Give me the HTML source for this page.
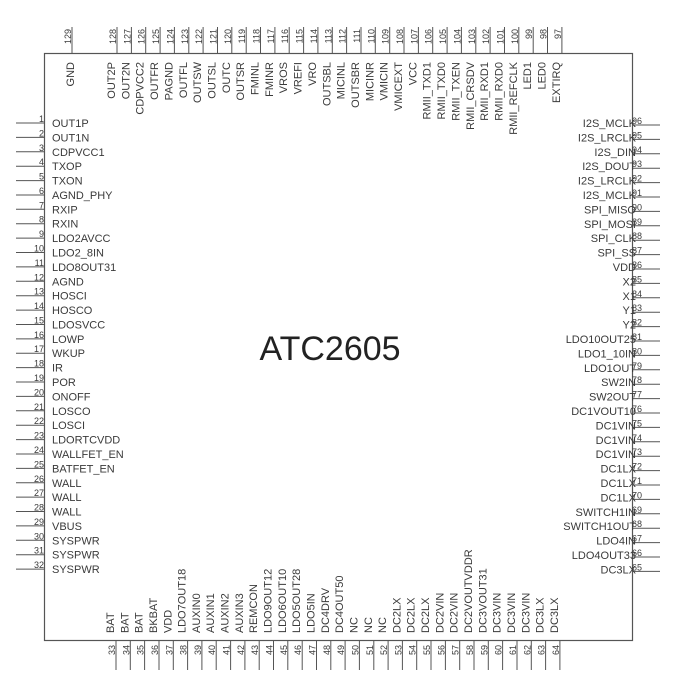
<!DOCTYPE html>
<html><head><meta charset="utf-8"><style>
html,body{margin:0;padding:0;background:#fff;}
svg{display:block;}
text{font-family:"Liberation Sans",Arial,sans-serif;fill:#3a3a3a;}
.l{font-size:11px}
.n{font-size:9px}
</style></head><body>
<svg width="700" height="700" viewBox="0 0 700 700" xmlns="http://www.w3.org/2000/svg">
<rect x="44.5" y="53.5" width="588" height="587" fill="none" stroke="#555" stroke-width="1.2"/>
<text x="330" y="360" text-anchor="middle" style="font-size:34px;fill:#222">ATC2605</text>

<!-- left pins -->
<g stroke="#555" stroke-width="1">
<path d="M16 123H44M16 137.4H44M16 151.8H44M16 166.2H44M16 180.6H44M16 195H44M16 209.3H44M16 223.7H44M16 238.1H44M16 252.5H44M16 266.9H44M16 281.3H44M16 295.7H44M16 310.1H44M16 324.5H44M16 338.9H44M16 353.2H44M16 367.6H44M16 382H44M16 396.4H44M16 410.8H44M16 425.2H44M16 439.6H44M16 454H44M16 468.4H44M16 482.8H44M16 497.1H44M16 511.5H44M16 525.9H44M16 540.3H44M16 554.7H44M16 569.1H44"/>
</g>
<g class="n" text-anchor="end">
<text x="44" y="122">1</text><text x="44" y="136.4">2</text><text x="44" y="150.8">3</text><text x="44" y="165.2">4</text><text x="44" y="179.6">5</text><text x="44" y="194">6</text><text x="44" y="208.3">7</text><text x="44" y="222.7">8</text><text x="44" y="237.1">9</text><text x="44" y="251.5">10</text><text x="44" y="265.9">11</text><text x="44" y="280.3">12</text><text x="44" y="294.7">13</text><text x="44" y="309.1">14</text><text x="44" y="323.5">15</text><text x="44" y="337.9">16</text><text x="44" y="352.2">17</text><text x="44" y="366.6">18</text><text x="44" y="381">19</text><text x="44" y="395.4">20</text><text x="44" y="409.8">21</text><text x="44" y="424.2">22</text><text x="44" y="438.6">23</text><text x="44" y="453">24</text><text x="44" y="467.4">25</text><text x="44" y="481.8">26</text><text x="44" y="496.1">27</text><text x="44" y="510.5">28</text><text x="44" y="524.9">29</text><text x="44" y="539.3">30</text><text x="44" y="553.7">31</text><text x="44" y="568.1">32</text>
</g>
<g class="l">
<text x="52" y="127">OUT1P</text><text x="52" y="141.4">OUT1N</text><text x="52" y="155.8">CDPVCC1</text><text x="52" y="170.2">TXOP</text><text x="52" y="184.6">TXON</text><text x="52" y="199">AGND_PHY</text><text x="52" y="213.3">RXIP</text><text x="52" y="227.7">RXIN</text><text x="52" y="242.1">LDO2AVCC</text><text x="52" y="256.5">LDO2_8IN</text><text x="52" y="270.9">LDO8OUT31</text><text x="52" y="285.3">AGND</text><text x="52" y="299.7">HOSCI</text><text x="52" y="314.1">HOSCO</text><text x="52" y="328.5">LDOSVCC</text><text x="52" y="342.9">LOWP</text><text x="52" y="357.2">WKUP</text><text x="52" y="371.6">IR</text><text x="52" y="386">POR</text><text x="52" y="400.4">ONOFF</text><text x="52" y="414.8">LOSCO</text><text x="52" y="429.2">LOSCI</text><text x="52" y="443.6">LDORTCVDD</text><text x="52" y="458">WALLFET_EN</text><text x="52" y="472.4">BATFET_EN</text><text x="52" y="486.8">WALL</text><text x="52" y="501.1">WALL</text><text x="52" y="515.5">WALL</text><text x="52" y="529.9">VBUS</text><text x="52" y="544.3">SYSPWR</text><text x="52" y="558.7">SYSPWR</text><text x="52" y="573.1">SYSPWR</text>
</g>

<!-- right pins -->
<g stroke="#555" stroke-width="1">
<path d="M633 125H660M633 139.4H660M633 153.8H660M633 168.2H660M633 182.6H660M633 197H660M633 211.4H660M633 225.8H660M633 240.2H660M633 254.6H660M633 269H660M633 283.4H660M633 297.8H660M633 312.2H660M633 326.6H660M633 341H660M633 355.4H660M633 369.8H660M633 384.2H660M633 398.6H660M633 413H660M633 427.4H660M633 441.8H660M633 456.2H660M633 470.6H660M633 485H660M633 499.4H660M633 513.8H660M633 528.2H660M633 542.6H660M633 557H660M633 571.4H660"/>
</g>
<g class="n">
<text x="632" y="124">96</text><text x="632" y="138.4">95</text><text x="632" y="152.8">94</text><text x="632" y="167.2">93</text><text x="632" y="181.6">92</text><text x="632" y="196">91</text><text x="632" y="210.4">90</text><text x="632" y="224.8">89</text><text x="632" y="239.2">88</text><text x="632" y="253.6">87</text><text x="632" y="268">86</text><text x="632" y="282.4">85</text><text x="632" y="296.8">84</text><text x="632" y="311.2">83</text><text x="632" y="325.6">82</text><text x="632" y="340">81</text><text x="632" y="354.4">80</text><text x="632" y="368.8">79</text><text x="632" y="383.2">78</text><text x="632" y="397.6">77</text><text x="632" y="412">76</text><text x="632" y="426.4">75</text><text x="632" y="440.8">74</text><text x="632" y="455.2">73</text><text x="632" y="469.6">72</text><text x="632" y="484">71</text><text x="632" y="498.4">70</text><text x="632" y="512.8">69</text><text x="632" y="527.2">68</text><text x="632" y="541.6">67</text><text x="632" y="556">66</text><text x="632" y="570.4">65</text>
</g>
<g class="l" text-anchor="end">
<text x="636" y="127">I2S_MCLK</text><text x="636" y="141.4">I2S_LRCLK</text><text x="636" y="155.8">I2S_DIN</text><text x="636" y="170.2">I2S_DOUT</text><text x="636" y="184.6">I2S_LRCLK</text><text x="636" y="199">I2S_MCLK</text><text x="636" y="213.4">SPI_MISO</text><text x="636" y="227.8">SPI_MOSI</text><text x="636" y="242.2">SPI_CLK</text><text x="636" y="256.6">SPI_SS</text><text x="636" y="271">VDD</text><text x="636" y="285.4">X2</text><text x="636" y="299.8">X1</text><text x="636" y="314.2">Y1</text><text x="636" y="328.6">Y2</text><text x="636" y="343">LDO10OUT25</text><text x="636" y="357.4">LDO1_10IN</text><text x="636" y="371.8">LDO1OUT</text><text x="636" y="386.2">SW2IN</text><text x="636" y="400.6">SW2OUT</text><text x="636" y="415">DC1VOUT10</text><text x="636" y="429.4">DC1VIN</text><text x="636" y="443.8">DC1VIN</text><text x="636" y="458.2">DC1VIN</text><text x="636" y="472.6">DC1LX</text><text x="636" y="487">DC1LX</text><text x="636" y="501.4">DC1LX</text><text x="636" y="515.8">SWITCH1IN</text><text x="636" y="530.2">SWITCH1OUT</text><text x="636" y="544.6">LDO4IN</text><text x="636" y="559">LDO4OUT33</text><text x="636" y="573.4">DC3LX</text>
</g>

<!-- top pins -->
<g stroke="#555" stroke-width="1">
<path d="M72 27V53M117 27V53M131.4 27V53M145.7 27V53M160.1 27V53M174.4 27V53M188.8 27V53M203.1 27V53M217.5 27V53M231.8 27V53M246.2 27V53M260.5 27V53M274.9 27V53M289.2 27V53M303.6 27V53M317.9 27V53M332.3 27V53M346.6 27V53M361 27V53M375.3 27V53M389.7 27V53M404 27V53M418.4 27V53M432.7 27V53M447.1 27V53M461.4 27V53M475.8 27V53M490.1 27V53M504.5 27V53M518.8 27V53M533.2 27V53M547.5 27V53M561.9 27V53"/>
</g>
<g class="n" text-anchor="end">
<text transform="translate(71,29) rotate(-90)">129</text>
<text transform="translate(116,29) rotate(-90)">128</text><text transform="translate(130.4,29) rotate(-90)">127</text><text transform="translate(144.7,29) rotate(-90)">126</text><text transform="translate(159.1,29) rotate(-90)">125</text><text transform="translate(173.4,29) rotate(-90)">124</text><text transform="translate(187.8,29) rotate(-90)">123</text><text transform="translate(202.1,29) rotate(-90)">122</text><text transform="translate(216.5,29) rotate(-90)">121</text><text transform="translate(230.8,29) rotate(-90)">120</text><text transform="translate(245.2,29) rotate(-90)">119</text><text transform="translate(259.5,29) rotate(-90)">118</text><text transform="translate(273.9,29) rotate(-90)">117</text><text transform="translate(288.2,29) rotate(-90)">116</text><text transform="translate(302.6,29) rotate(-90)">115</text><text transform="translate(316.9,29) rotate(-90)">114</text><text transform="translate(331.3,29) rotate(-90)">113</text><text transform="translate(345.6,29) rotate(-90)">112</text><text transform="translate(360,29) rotate(-90)">111</text><text transform="translate(374.3,29) rotate(-90)">110</text><text transform="translate(388.7,29) rotate(-90)">109</text><text transform="translate(403,29) rotate(-90)">108</text><text transform="translate(417.4,29) rotate(-90)">107</text><text transform="translate(431.7,29) rotate(-90)">106</text><text transform="translate(446.1,29) rotate(-90)">105</text><text transform="translate(460.4,29) rotate(-90)">104</text><text transform="translate(474.8,29) rotate(-90)">103</text><text transform="translate(489.1,29) rotate(-90)">102</text><text transform="translate(503.5,29) rotate(-90)">101</text><text transform="translate(517.8,29) rotate(-90)">100</text><text transform="translate(532.2,29) rotate(-90)">99</text><text transform="translate(546.5,29) rotate(-90)">98</text><text transform="translate(560.9,29) rotate(-90)">97</text>
</g>
<g class="l" text-anchor="end">
<text transform="translate(74,62) rotate(-90)">GND</text>
<text transform="translate(115,62) rotate(-90)">OUT2P</text><text transform="translate(129.4,62) rotate(-90)">OUT2N</text><text transform="translate(143.7,62) rotate(-90)">CDPVCC2</text><text transform="translate(158.1,62) rotate(-90)">OUTFR</text><text transform="translate(172.4,62) rotate(-90)">PAGND</text><text transform="translate(186.8,62) rotate(-90)">OUTFL</text><text transform="translate(201.1,62) rotate(-90)">OUTSW</text><text transform="translate(215.5,62) rotate(-90)">OUTSL</text><text transform="translate(229.8,62) rotate(-90)">OUTC</text><text transform="translate(244.2,62) rotate(-90)">OUTSR</text><text transform="translate(258.5,62) rotate(-90)">FMINL</text><text transform="translate(272.9,62) rotate(-90)">FMINR</text><text transform="translate(287.2,62) rotate(-90)">VROS</text><text transform="translate(301.6,62) rotate(-90)">VREFI</text><text transform="translate(315.9,62) rotate(-90)">VRO</text><text transform="translate(330.3,62) rotate(-90)">OUTSBL</text><text transform="translate(344.6,62) rotate(-90)">MICINL</text><text transform="translate(359,62) rotate(-90)">OUTSBR</text><text transform="translate(373.3,62) rotate(-90)">MICINR</text><text transform="translate(387.7,62) rotate(-90)">VMICIN</text><text transform="translate(402,62) rotate(-90)">VMICEXT</text><text transform="translate(416.4,62) rotate(-90)">VCC</text><text transform="translate(430.7,62) rotate(-90)">RMII_TXD1</text><text transform="translate(445.1,62) rotate(-90)">RMII_TXD0</text><text transform="translate(459.4,62) rotate(-90)">RMII_TXEN</text><text transform="translate(473.8,62) rotate(-90)">RMII_CRSDV</text><text transform="translate(488.1,62) rotate(-90)">RMII_RXD1</text><text transform="translate(502.5,62) rotate(-90)">RMII_RXD0</text><text transform="translate(516.8,62) rotate(-90)">RMII_REFCLK</text><text transform="translate(531.2,62) rotate(-90)">LED1</text><text transform="translate(545.5,62) rotate(-90)">LED0</text><text transform="translate(559.9,62) rotate(-90)">EXTIRQ</text>
</g>

<!-- bottom pins -->
<g stroke="#555" stroke-width="1">
<path d="M116 641V670M130.3 641V670M144.6 641V670M159 641V670M173.3 641V670M187.6 641V670M201.9 641V670M216.2 641V670M230.6 641V670M244.9 641V670M259.2 641V670M273.5 641V670M287.8 641V670M302.2 641V670M316.5 641V670M330.8 641V670M345.1 641V670M359.4 641V670M373.8 641V670M388.1 641V670M402.4 641V670M416.7 641V670M431 641V670M445.4 641V670M459.7 641V670M474 641V670M488.3 641V670M502.6 641V670M517 641V670M531.3 641V670M545.6 641V670M559.9 641V670"/>
</g>
<g class="n">
<text transform="translate(115,655) rotate(-90)">33</text><text transform="translate(129.3,655) rotate(-90)">34</text><text transform="translate(143.6,655) rotate(-90)">35</text><text transform="translate(158,655) rotate(-90)">36</text><text transform="translate(172.3,655) rotate(-90)">37</text><text transform="translate(186.6,655) rotate(-90)">38</text><text transform="translate(200.9,655) rotate(-90)">39</text><text transform="translate(215.2,655) rotate(-90)">40</text><text transform="translate(229.6,655) rotate(-90)">41</text><text transform="translate(243.9,655) rotate(-90)">42</text><text transform="translate(258.2,655) rotate(-90)">43</text><text transform="translate(272.5,655) rotate(-90)">44</text><text transform="translate(286.8,655) rotate(-90)">45</text><text transform="translate(301.2,655) rotate(-90)">46</text><text transform="translate(315.5,655) rotate(-90)">47</text><text transform="translate(329.8,655) rotate(-90)">48</text><text transform="translate(344.1,655) rotate(-90)">49</text><text transform="translate(358.4,655) rotate(-90)">50</text><text transform="translate(372.8,655) rotate(-90)">51</text><text transform="translate(387.1,655) rotate(-90)">52</text><text transform="translate(401.4,655) rotate(-90)">53</text><text transform="translate(415.7,655) rotate(-90)">54</text><text transform="translate(430,655) rotate(-90)">55</text><text transform="translate(444.4,655) rotate(-90)">56</text><text transform="translate(458.7,655) rotate(-90)">57</text><text transform="translate(473,655) rotate(-90)">58</text><text transform="translate(487.3,655) rotate(-90)">59</text><text transform="translate(501.6,655) rotate(-90)">60</text><text transform="translate(516,655) rotate(-90)">61</text><text transform="translate(530.3,655) rotate(-90)">62</text><text transform="translate(544.6,655) rotate(-90)">63</text><text transform="translate(558.9,655) rotate(-90)">64</text>
</g>
<g class="l">
<text transform="translate(114,633) rotate(-90)">BAT</text><text transform="translate(128.3,633) rotate(-90)">BAT</text><text transform="translate(142.6,633) rotate(-90)">BAT</text><text transform="translate(157,633) rotate(-90)">BKBAT</text><text transform="translate(171.3,633) rotate(-90)">VDD</text><text transform="translate(185.6,633) rotate(-90)">LDO7OUT18</text><text transform="translate(199.9,633) rotate(-90)">AUXIN0</text><text transform="translate(214.2,633) rotate(-90)">AUXIN1</text><text transform="translate(228.6,633) rotate(-90)">AUXIN2</text><text transform="translate(242.9,633) rotate(-90)">AUXIN3</text><text transform="translate(257.2,633) rotate(-90)">REMCON</text><text transform="translate(271.5,633) rotate(-90)">LDO9OUT12</text><text transform="translate(285.8,633) rotate(-90)">LDO6OUT10</text><text transform="translate(300.2,633) rotate(-90)">LDO5OUT28</text><text transform="translate(314.5,633) rotate(-90)">LDO5IN</text><text transform="translate(328.8,633) rotate(-90)">DC4DRV</text><text transform="translate(343.1,633) rotate(-90)">DC4OUT50</text><text transform="translate(357.4,633) rotate(-90)">NC</text><text transform="translate(371.8,633) rotate(-90)">NC</text><text transform="translate(386.1,633) rotate(-90)">NC</text><text transform="translate(400.4,633) rotate(-90)">DC2LX</text><text transform="translate(414.7,633) rotate(-90)">DC2LX</text><text transform="translate(429,633) rotate(-90)">DC2LX</text><text transform="translate(443.4,633) rotate(-90)">DC2VIN</text><text transform="translate(457.7,633) rotate(-90)">DC2VIN</text><text transform="translate(472,633) rotate(-90)">DC2VOUTVDDR</text><text transform="translate(486.3,633) rotate(-90)">DC3VOUT31</text><text transform="translate(500.6,633) rotate(-90)">DC3VIN</text><text transform="translate(515,633) rotate(-90)">DC3VIN</text><text transform="translate(529.3,633) rotate(-90)">DC3VIN</text><text transform="translate(543.6,633) rotate(-90)">DC3LX</text><text transform="translate(557.9,633) rotate(-90)">DC3LX</text>
</g>
</svg>
</body></html>
